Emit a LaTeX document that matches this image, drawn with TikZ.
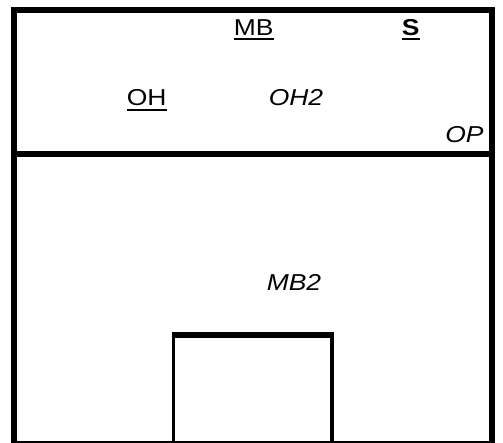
\documentclass[tikz,border=0pt]{standalone}
\usepackage{fontspec}
\setmainfont{Liberation Sans}
\newcommand{\undl}[1]{\setbox0\hbox{#1}\rlap{\vrule height -2.6pt depth 4.6pt width \wd0}\box0}

\begin{document}
\begin{tikzpicture}[x=1pt,y=-1pt,
  wall/.style={line width=6pt},
  post/.style={line width=3.5pt},
  lbl/.style={font=\fontsize{23}{27}\selectfont,xscale=1.15,inner sep=0pt,anchor=base}]
  \useasboundingbox (0,0) rectangle (503,443);
  \draw[wall] (14,10) rectangle (492,444);
  \draw[wall] (14,153.7) -- (492,153.7);
  % small box at the bottom
  \draw[post] (173.6,444) -- (173.6,335);
  \draw[post] (332.2,444) -- (332.2,335);
  \draw[wall] (172,335) -- (334,335);
  \node[lbl] (mb) at (253.8,35.7) {\undl{MB}};
  \node[lbl] (s) at (410.8,35.7) {\undl{\bfseries S}};
  \node[lbl] (oh) at (146.7,106) {\undl{OH}};
  \node[lbl] (oh2) at (296,106) {\itshape OH2};
  \node[lbl] (op) at (464.5,143) {\itshape OP};
  \node[lbl] (mb2) at (294,291) {\itshape MB2};
\end{tikzpicture}
\end{document}
